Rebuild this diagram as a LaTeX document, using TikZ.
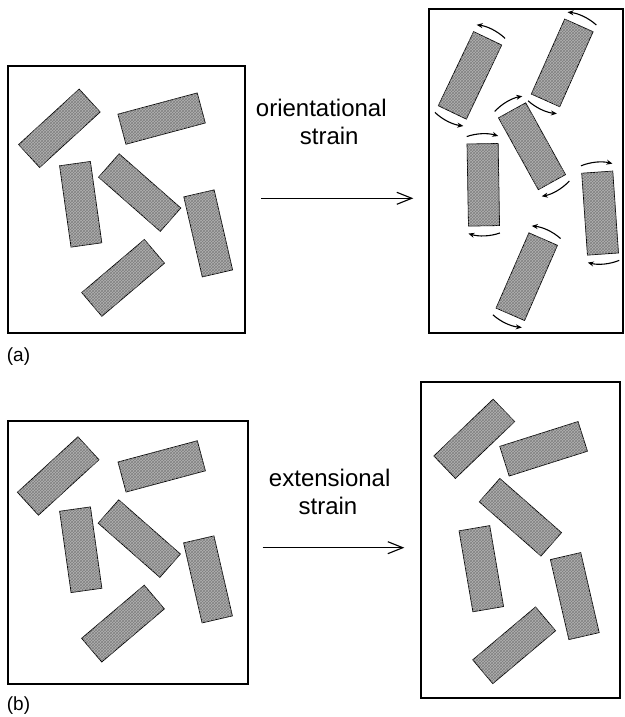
\documentclass[tikz,border=0pt]{standalone}
\usepackage{fontspec}
\setmainfont{Liberation Sans}
\usetikzlibrary{arrows.meta,patterns}
\tikzset{
  panel/.style={draw, line width=1.6pt},
  rod/.style={draw, line width=0.8pt, fill=black!30,
    postaction={pattern=crosshatch, pattern color=black!50},
    minimum width=82pt, minimum height=31pt, inner sep=0pt, outer sep=0pt},
  mainarrow/.style={line width=1.1pt, -{Straight Barb[length=15pt,width=12pt,line width=1.1pt]}},
  rotarrow/.style={line width=1.1pt, -{Stealth[length=6pt,width=5pt]}},
  lbl/.style={font=\fontsize{24}{28}\selectfont, anchor=base, inner sep=0pt},
  tag/.style={font=\fontsize{19}{22}\selectfont, anchor=base, inner sep=0pt}
}
\newcommand{\rotarr}[3]{%
  \draw[rotarrow] (#1.center) ++({#2-#3*18}:51) arc[start angle={#2-#3*18}, end angle={#2+#3*18}, radius=51];
  \draw[rotarrow] (#1.center) ++({#2+180-#3*18}:51) arc[start angle={#2+180-#3*18}, end angle={#2+180+#3*18}, radius=51];}
\begin{document}
\begin{tikzpicture}[x=1pt,y=1pt]
\useasboundingbox (0,0) rectangle (624,717);
% panels
\draw[panel] (8,384) rectangle (245,651);
\draw[panel] (429,384) rectangle (623,708);
\draw[panel] (8,33) rectangle (248,296);
\draw[panel] (421,19) rectangle (620,335);
% (a) left panel rods
\node[rod, rotate=42.5] (R1) at (59.4,588.7) {};
\node[rod, rotate=15] (R2) at (161.6,598.4) {};
\node[rod, rotate=98] (R3) at (80.7,512.7) {};
\node[rod, rotate=-41.3] (R4) at (139.7,524.4) {};
\node[rod, rotate=103] (R5) at (208.2,483.6) {};
\node[rod, rotate=40.3] (R6) at (123.1,439.1) {};
% (a) right panel rods
\node[rod, rotate=64.5] (T1) at (470,641.6) {};
\node[rod, rotate=66] (T2) at (562.2,654.1) {};
\node[rod, rotate=119] (T3) at (532,570.75) {};
\node[rod, rotate=91] (T4) at (483.3,532.2) {};
\node[rod, rotate=94] (T5) at (600.1,503.9) {};
\node[rod, rotate=66.4] (T6) at (526.75,440.3) {};
\rotarr{T1}{64.5}{1}
\rotarr{T2}{66}{1}
\rotarr{T3}{119}{-1}
\rotarr{T4}{91}{-1}
\rotarr{T5}{94}{-1}
\rotarr{T6}{66.4}{1}
% (b) left panel rods
\node[rod, rotate=42.5] (B1) at (58.2,241) {};
\node[rod, rotate=15] (B2) at (161.7,250.6) {};
\node[rod, rotate=98] (B3) at (80.75,167.25) {};
\node[rod, rotate=-41.3] (B4) at (139.3,178.4) {};
\node[rod, rotate=103] (B5) at (208,137.6) {};
\node[rod, rotate=40.3] (B6) at (123,93.4) {};
% (b) right panel rods
\node[rod, rotate=43.8] (E1) at (474.25,278.2) {};
\node[rod, rotate=17.6] (E2) at (543.6,268.2) {};
\node[rod, rotate=-41.3] (E3) at (520.4,199.75) {};
\node[rod, rotate=99.7] (E4) at (481.3,148.3) {};
\node[rod, rotate=103] (E5) at (574.8,120.9) {};
\node[rod, rotate=40.1] (E6) at (514.15,71.7) {};
% labels
\node[lbl] (t1) at (321.3,600.3) {orientational};
\node[lbl] (t2) at (329.2,572) {strain};
\node[lbl] (t3) at (329.7,230.3) {extensional};
\node[lbl] (t4) at (328,202) {strain};
\node[tag] (la) at (18.5,355) {(a)};
\node[tag] (lb) at (18.5,6) {(b)};
% main arrows
\coordinate (a1s) at (261,518.7);
\coordinate (a1e) at (413.3,518.7);
\coordinate (a2s) at (262.7,169.3);
\coordinate (a2e) at (404.3,169.3);
\draw[mainarrow] (a1s) -- (a1e);
\draw[mainarrow] (a2s) -- (a2e);
\end{tikzpicture}
\end{document}
